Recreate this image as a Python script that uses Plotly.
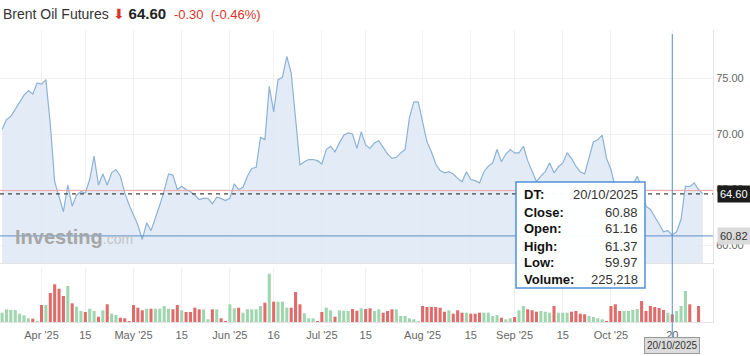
import plotly.graph_objects as go

# ---- data (trading-day index 0..160) ----
prices = [70.4, 71.3, 71.6, 72.2, 72.9, 73.5, 73.9, 73.6, 74.6, 74.5,
          74.9, 70.9, 65.7, 64.3, 63.0, 65.4, 63.5, 64.5, 64.8, 64.7,
          65.9, 68.0, 65.4, 66.4, 65.4, 66.5, 66.8, 66.2, 64.7, 63.6,
          62.7, 61.8, 60.5, 62.0, 61.3, 62.4, 63.6, 64.9, 66.4, 66.3,
          65.0, 65.3, 65.0, 64.8, 64.5, 64.1, 64.2, 64.2, 63.7, 64.3,
          64.2, 64.0, 64.2, 65.5, 65.0, 65.2, 66.2, 66.9, 67.0, 69.7,
          69.5, 74.3, 72.0, 74.9, 75.1, 77.0, 75.5, 71.4, 67.2, 67.5,
          67.7, 67.7, 67.6, 67.3, 68.6, 68.9, 68.4, 69.2, 69.9, 70.1,
          70.0, 68.7, 70.2, 69.0, 68.7, 69.2, 69.4, 68.8, 68.2, 67.8,
          67.9, 68.3, 68.6, 71.5, 72.9, 72.9, 71.0, 69.3, 68.4, 67.3,
          66.7, 66.5, 66.6, 66.4, 66.0, 65.7, 66.6, 65.9, 65.8, 65.6,
          66.6, 67.1, 67.4, 68.6, 67.5, 68.2, 68.6, 68.3, 68.3, 68.9,
          67.6, 66.7, 65.7, 66.2, 66.6, 67.4, 66.5, 67.05, 67.4, 68.3,
          67.8, 67.1, 66.6, 66.4, 67.9, 69.3, 69.5, 69.9, 67.8, 66.8,
          65.2, 64.1, 64.5, 65.4, 65.4, 66.2, 65.2, 63.5, 63.2, 62.6,
          61.9, 61.2, 61.3, 60.88, 61.2, 62.3, 65.3, 65.25, 65.6, 65.0,
          64.6]

volumes_k = [272, 371, 351, 351, 243, 196, 108, 97, 29, 497,
             497, 848, 1103, 974, 761, 1053, 547, 448, 322, 293,
             389, 322, 155, 342, 518, 243, 205, 126, 108, 29,
             497, 418, 342, 389, 389, 389, 389, 468, 389, 371,
             497, 342, 293, 293, 418, 371, 371, 79, 371, 371,
             108, 29, 518, 401, 418, 272, 371, 371, 371, 468,
             565, 1413, 594, 594, 594, 418, 418, 878, 518, 254,
             108, 108, 29, 293, 418, 342, 155, 342, 331, 322,
             380, 331, 401, 380, 401, 322, 371, 272, 322, 371,
             371, 176, 176, 108, 79, 29, 468, 439, 439, 439,
             418, 301, 342, 243, 342, 272, 272, 243, 243, 272,
             272, 272, 176, 205, 126, 79, 108, 146, 342, 468,
             371, 342, 301, 322, 301, 272, 468, 272, 272, 272,
             301, 322, 243, 225, 176, 146, 108, 79, 23, 468,
             518, 322, 322, 322, 351, 380, 614, 322, 468, 439,
             410, 351, 272, 225.218, 322, 468, 907, 518, 0, 468,
             0]

tick_idx = [9, 19, 30, 41, 52, 62, 73, 83, 96, 107, 117, 128, 139, 153]
tick_text = ["Apr '25", "15", "May '25", "15", "Jun '25", "16", "Jul '25", "15",
             "Aug '25", "15", "Sep '25", "15", "Oct '25", "20"]
price_ticks = [60, 65, 70, 75]

last_price = 64.60
prev_close = 64.90
cross_idx = 153
cross_price = 60.82
tooltip_rows = [("DT:", "20/10/2025"), ("Close:", "60.88"), ("Open:", "61.16"),
                ("High:", "61.37"), ("Low:", "59.97"), ("Volume:", "225,218")]

x = list(range(len(prices)))
GREEN = "#9fd6ad"
RED = "#e06b6b"
vol_colors = [GREEN] + [GREEN if prices[i] >= prices[i - 1] else RED for i in range(1, len(prices))]

FONT = "Liberation Sans, Arial, sans-serif"
W, H = 750, 356
ML, MR, MT, MB = 0, 37, 30, 34
PW = W - ML - MR
PH = H - MT - MB


def py(ypix):
    return (H - MB - ypix) / PH


def px(xpix):
    return (xpix - ML) / PW


fig = go.Figure()
fig.add_trace(go.Scatter(x=x, y=prices, mode="lines",
                         line=dict(color="rgb(140,178,214)", width=1.2),
                         fill="tozeroy", fillcolor="rgba(222,233,244,0.85)",
                         xaxis="x", yaxis="y", hoverinfo="skip"))
fig.add_trace(go.Bar(x=x, y=volumes_k, marker=dict(color=vol_colors, line=dict(width=0)),
                     xaxis="x2", yaxis="y2", hoverinfo="skip"))

xr = [-0.48, 162.3]
grid = "#f1f1f1"
fig.update_layout(
    width=W, height=H, margin=dict(l=ML, r=MR, t=MT, b=MB),
    paper_bgcolor="white", plot_bgcolor="white", showlegend=False,
    hovermode=False, bargap=0.3,
    font=dict(family=FONT, color="#666", size=11),
    xaxis=dict(domain=[0, 1], anchor="y", range=xr, tickvals=tick_idx, showticklabels=False,
               showgrid=True, gridcolor=grid, zeroline=False, showline=True,
               linecolor="#e3e3e3", linewidth=1, ticks=""),
    xaxis2=dict(domain=[0, 1], anchor="y2", range=xr, tickvals=tick_idx, ticktext=tick_text,
                showgrid=True, gridcolor=grid, zeroline=False, showline=True,
                linecolor="#e3e3e3", ticks="outside", ticklen=3, tickcolor="white",
                tickfont=dict(size=11, color="#666")),
    yaxis=dict(domain=[py(263), 1], range=[58.38, 79.37], side="right", anchor="x",
               tickvals=price_ticks, tickformat=".2f", showgrid=True, gridcolor=grid,
               zeroline=False, showline=True, linecolor="#e3e3e3",
               tickfont=dict(size=11, color="#666")),
    yaxis2=dict(domain=[0, py(268)], range=[0, 1580], side="right", anchor="x2",
                showticklabels=False, showgrid=False, zeroline=False, showline=True,
                linecolor="#e3e3e3"),
)

shapes = [
    dict(type="line", xref="paper", yref="y", x0=0, x1=1, y0=prev_close, y1=prev_close,
         line=dict(color="#f2a3a3", width=1)),
    dict(type="line", xref="paper", yref="y", x0=0, x1=1, y0=last_price, y1=last_price,
         line=dict(color="#444", width=1.2, dash="4px,4px")),
    dict(type="line", xref="paper", yref="y", x0=0, x1=1, y0=cross_price, y1=cross_price,
         line=dict(color="#5a8fc8", width=1)),
    dict(type="line", xref="x", yref="paper", x0=cross_idx, x1=cross_idx, y0=py(338), y1=py(34),
         line=dict(color="#5a8fc8", width=1)),
    dict(type="rect", xref="paper", yref="paper", x0=px(516), x1=px(645), y0=py(288), y1=py(182),
         fillcolor="rgba(255,255,255,0.97)", line=dict(color="#4f90d8", width=1.5)),
]
fig.update_layout(shapes=shapes)

ann = []
row_y = [195, 212, 229, 246, 262, 279]
for (lab, val), yy in zip(tooltip_rows, row_y):
    ann.append(dict(xref="paper", yref="paper", x=px(522), y=py(yy), xanchor="left", yanchor="middle",
                    text="<b>%s</b>" % lab, showarrow=False, font=dict(size=13, color="#111", family=FONT)))
    ann.append(dict(xref="paper", yref="paper", x=px(640), y=py(yy), xanchor="right", yanchor="middle",
                    text=val, showarrow=False, font=dict(size=13, color="#333", family=FONT)))

# right-side price labels
ann.append(dict(xref="paper", yref="y", x=1, y=last_price, xanchor="left", yanchor="middle", xshift=4,
                text="%.2f" % last_price, showarrow=False, bgcolor="#1c1c1c", borderpad=2,
                font=dict(size=11, color="white", family=FONT)))
ann.append(dict(xref="paper", yref="y", x=1, y=cross_price, xanchor="left", yanchor="middle", xshift=4,
                text="%.2f" % cross_price, showarrow=False, bgcolor="#dadada", borderpad=2,
                font=dict(size=11, color="#333", family=FONT)))
# date label under crosshair
ann.append(dict(xref="x", yref="paper", x=cross_idx, y=py(346), xanchor="center", yanchor="middle",
                text="20/10/2025", showarrow=False, bgcolor="#dcdcdc", bordercolor="#999",
                borderwidth=1, borderpad=2, font=dict(size=10, color="#333", family=FONT)))
# watermark
ann.append(dict(xref="paper", yref="paper", x=px(13), y=py(237), xanchor="left", yanchor="middle",
                text=("<b>Investing</b><span style='font-size:14px;color:#c4c4c4'>.com</span>"),
                showarrow=False, font=dict(size=20, color="#a6a6a6", family=FONT)))
# header
ann.append(dict(xref="paper", yref="paper", x=px(1), y=py(13), xanchor="left", yanchor="middle",
                text=("Brent Oil Futures <span style='color:#d8342c;font-size:14px'>⬇</span> "
                      "<span style='font-size:15px;font-weight:bold;color:#222'>64.60</span>  "
                      "<span style='color:#d8342c;font-size:13px'>-0.30  (-0.46%)</span>"),
                showarrow=False, font=dict(size=14, color="#333", family=FONT)))
fig.update_layout(annotations=ann)

fig.write_html("out.html", config={"displayModeBar": False},
               post_script="document.body.style.margin='0px';")
